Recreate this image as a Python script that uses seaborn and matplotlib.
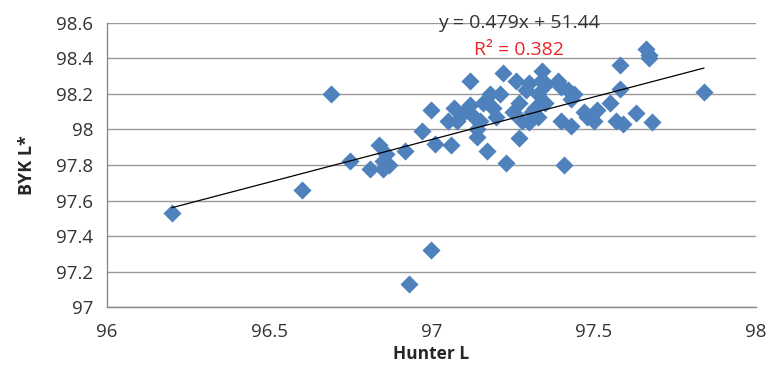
import numpy as np
import pandas as pd
import seaborn as sns
import matplotlib.pyplot as plt

# Hunter L vs BYK L* readings (estimated from the reference chart)
hunter_l = [96.20, 96.60, 96.69, 96.75, 96.81, 96.84, 96.85, 96.86, 96.87, 96.85,
            96.92, 96.93, 96.97, 97.00, 97.00, 97.01, 97.05, 97.06, 97.07, 97.08,
            97.10, 97.12, 97.12, 97.13, 97.14, 97.14, 97.15, 97.16, 97.17, 97.18,
            97.19, 97.20, 97.21, 97.22, 97.23, 97.25, 97.26, 97.27, 97.27, 97.28,
            97.29, 97.30, 97.30, 97.31, 97.32, 97.33, 97.34, 97.34, 97.35, 97.35,
            97.33, 97.39, 97.40, 97.40, 97.41, 97.42, 97.43, 97.43, 97.44, 97.47,
            97.48, 97.50, 97.51, 97.55, 97.57, 97.58, 97.58, 97.59, 97.63, 97.66,
            97.67, 97.67, 97.68, 97.84]
byk_l = [97.53, 97.66, 98.20, 97.82, 97.78, 97.91, 97.82, 97.86, 97.80, 97.78,
         97.88, 97.13, 97.99, 97.32, 98.11, 97.92, 98.05, 97.91, 98.12, 98.05,
         98.10, 98.27, 98.14, 98.07, 98.00, 97.96, 98.05, 98.15, 97.88, 98.20,
         98.12, 98.07, 98.20, 98.32, 97.81, 98.10, 98.27, 97.95, 98.15, 98.05,
         98.22, 98.04, 98.26, 98.10, 98.12, 98.20, 98.28, 98.33, 98.25, 98.15,
         98.07, 98.27, 98.24, 98.05, 97.80, 98.22, 98.17, 98.02, 98.20, 98.10,
         98.07, 98.05, 98.11, 98.15, 98.05, 98.23, 98.36, 98.03, 98.09, 98.45,
         98.42, 98.40, 98.04, 98.21]

# trendline as printed on the chart
slope = 0.479
intercept = 51.44
r_squared = 0.382

df = pd.DataFrame({'Hunter L': hunter_l, 'BYK L*': byk_l})

sns.set_style('white')
plt.rcParams['font.family'] = ['Open Sans', 'DejaVu Sans']

fig = plt.figure(figsize=(7.69, 3.70), dpi=100)
ax = fig.add_axes([0.139, 0.1695, 0.844, 0.769])

sns.scatterplot(data=df, x='Hunter L', y='BYK L*', marker='D', s=85,
                color='#4F81BD', edgecolor='#4F81BD', linewidth=0, ax=ax, zorder=3)

# linear trendline over the data range (printed coefficients are rounded)
fit_x = np.array([min(hunter_l), max(hunter_l)])
fit_df = pd.DataFrame({'x': fit_x, 'y': slope * fit_x + intercept + 0.04})
sns.lineplot(data=fit_df, x='x', y='y', color='black', linewidth=0.9, ax=ax, zorder=4)

ax.set_xlim(96, 98)
ax.set_ylim(97, 98.6)
ax.set_xticks([96, 96.5, 97, 97.5, 98])
ax.set_xticklabels(['96', '96.5', '97', '97.5', '98'])
ax.set_yticks(np.arange(97, 98.61, 0.2))
ax.set_yticklabels(['97', '97.2', '97.4', '97.6', '97.8', '98', '98.2', '98.4', '98.6'])
ax.tick_params(axis='both', length=0, labelsize=13.5, colors='#333333')
ax.tick_params(axis='y', pad=10)
ax.tick_params(axis='x', pad=11)

ax.yaxis.grid(True, color='#9a9a9a', linewidth=1)
ax.set_axisbelow(True)
for side in ['top', 'right']:
    ax.spines[side].set_visible(False)
for side in ['left', 'bottom']:
    ax.spines[side].set_color('#8a8a8a')
    ax.spines[side].set_linewidth(1)

ax.set_xlabel('Hunter L', fontsize=12.5, fontweight='bold', labelpad=3)
ax.set_ylabel('BYK L*', fontsize=13, fontweight='bold', labelpad=14)

ax.text(97.27, 98.6, f'y = {slope}x + {intercept}', ha='center', va='center',
        fontsize=14, color='#333333', zorder=5)
ax.text(97.27, 98.447, f'R² = {r_squared}', ha='center', va='center',
        fontsize=14, color='#E8262B', zorder=5)

fig.savefig('out.png', dpi=100)
